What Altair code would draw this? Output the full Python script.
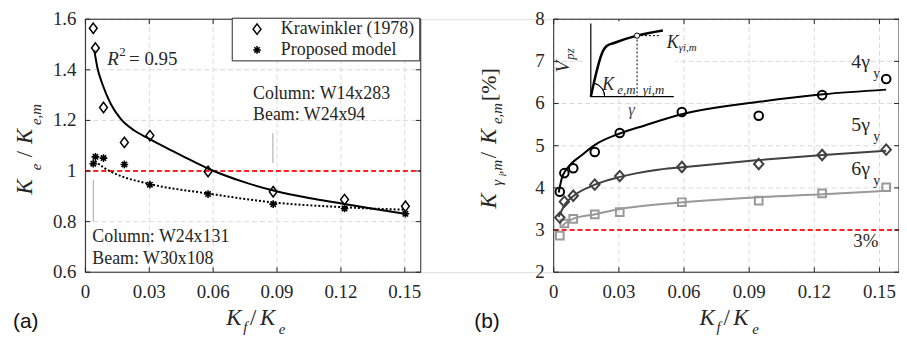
import altair as alt
import pandas as pd

SERIF = "Liberation Serif"
SANS = "Liberation Sans"
DARK = "#262626"
GRID = "#dadada"

# ---------------- Panel (a) data ----------------
ratio_a = [0.0037, 0.0047, 0.0085, 0.0183, 0.0303, 0.0576, 0.0882, 0.1217, 0.1503]
krawinkler = [1.564, 1.486, 1.251, 1.113, 1.140, 0.998, 0.918, 0.887, 0.861]
proposed = [1.029, 1.056, 1.051, 1.026, 0.946, 0.909, 0.869, 0.852, 0.831]
fit_solid_x = [0.0042, 0.0057, 0.0081, 0.0120, 0.0166, 0.0228, 0.0298, 0.0383, 0.0461,
               0.0570, 0.075, 0.0888, 0.105, 0.1214, 0.135, 0.150]
fit_solid_y = [1.477, 1.406, 1.341, 1.264, 1.206, 1.161, 1.128, 1.090, 1.057,
               1.012, 0.955, 0.922, 0.893, 0.870, 0.851, 0.831]
fit_dot_x = [0.0045, 0.0089, 0.015, 0.0306, 0.0576, 0.088, 0.121, 0.150]
fit_dot_y = [1.040, 1.012, 0.986, 0.948, 0.911, 0.876, 0.857, 0.847]
xticks_a = [0, 0.03, 0.06, 0.09, 0.12, 0.15]
yticks_a = [0.6, 0.8, 1.0, 1.2, 1.4, 1.6]

# ---------------- Panel (b) data ----------------
ratio_b = [0.0028, 0.0049, 0.0090, 0.0189, 0.0304, 0.0590, 0.0944, 0.1236, 0.1531]
gamma4 = [3.907, 4.35, 4.465, 4.85, 5.30, 5.80, 5.71, 6.20, 6.58]
gamma5 = [3.295, 3.674, 3.814, 4.077, 4.28, 4.496, 4.566, 4.78, 4.907]
gamma6 = [2.868, 3.155, 3.263, 3.372, 3.426, 3.66, 3.698, 3.868, 4.015]
fit4_x = [0.0023, 0.0038, 0.0053, 0.0084, 0.013, 0.019, 0.0305, 0.0419, 0.0594, 0.0944, 0.1241, 0.1531]
fit4_y = [3.89, 4.24, 4.40, 4.59, 4.78, 5.02, 5.29, 5.48, 5.75, 6.04, 6.22, 6.33]
fit5_x = [0.0023, 0.0053, 0.0091, 0.0187, 0.0305, 0.0464, 0.0594, 0.0944, 0.1241, 0.1531]
fit5_y = [3.31, 3.62, 3.81, 4.07, 4.26, 4.42, 4.49, 4.66, 4.78, 4.88]
fit6_x = [0.0038, 0.0053, 0.0091, 0.0187, 0.0305, 0.0464, 0.0594, 0.0944, 0.1241, 0.1531]
fit6_y = [3.08, 3.16, 3.27, 3.37, 3.50, 3.60, 3.66, 3.78, 3.85, 3.93]
xticks_b = [0, 0.03, 0.06, 0.09, 0.12, 0.15]
yticks_b = [2, 3, 4, 5, 6, 7, 8]

# inset schematic (in panel-b data units)
inset_axes_x = [0.01708, 0.01708, 0.0553]
inset_axes_y = [7.90, 6.163, 6.163]
inset_curve_x = [0.01708, 0.02284, 0.0244, 0.02741, 0.03838, 0.05026]
inset_curve_y = [6.163, 7.263, 7.365, 7.43, 7.61, 7.73]
inset_vdot_x = [0.03838, 0.03838]
inset_vdot_y = [7.61, 6.163]
inset_hdot_x = [0.03838, 0.04875]
inset_hdot_y = [7.61, 7.61]

# ---------------- layout (one view) ----------------
OX, OY = 86, 18
H = 255
A0, A1 = 0, 338          # panel (a) plot area, px within the view
B0, B1 = 472, 820        # panel (b) plot area
W = B1

DIAMOND_A = "M0,-1L0.75,0L0,1L-0.75,0Z"
DIAMOND_B = "M0,-1L0.9,0L0,1L-0.9,0Z"
ASTER = "M0,-1L0,1M-1,0L1,0M-0.7,-0.7L0.7,0.7M-0.7,0.7L0.7,-0.7"

ONE = alt.Data(values=[{"k": 0}])


def df_xy(xs, ys):
    return pd.DataFrame({"x": xs, "y": ys, "o": list(range(len(xs)))})


def XA():
    return alt.X("x:Q", scale=alt.Scale(domain=[0, 0.1575], range=[A0, A1], nice=False, zero=False), axis=None)


def YA():
    return alt.Y("y:Q", scale=alt.Scale(domain=[0.6, 1.6], nice=False, zero=False), axis=None)


def XB():
    return alt.X("x:Q", scale=alt.Scale(domain=[0, 0.159], range=[B0, B1], nice=False, zero=False), axis=None)


def YB():
    return alt.Y("y:Q", scale=alt.Scale(domain=[2, 8], nice=False, zero=False), axis=None)


def txt(text, x, y, size=19, style="normal", angle=0, align="left",
        baseline="alphabetic", font=SERIF, color=DARK):
    return alt.Chart(ONE).mark_text(
        text=text, font=font, fontSize=size, fontStyle=style, angle=angle,
        align=align, baseline=baseline, color=color
    ).encode(x=alt.value(x - OX), y=alt.value(y - OY))


def rule_px(x1, y1, x2, y2, color, width=1.0):
    return alt.Chart(ONE).mark_rule(color=color, strokeWidth=width).encode(
        x=alt.value(x1 - OX), y=alt.value(y1 - OY), x2=alt.value(x2 - OX), y2=alt.value(y2 - OY))


def frame_layers(xticks, yticks, X, Y, x0, x1, xfmt, yfmt):
    tx = pd.DataFrame({"x": xticks})
    ty = pd.DataFrame({"y": yticks})
    L = 5
    grid = [
        alt.Chart(tx).mark_rule(color=GRID, strokeWidth=1, strokeDash=[5, 3]).encode(
            x=X(), y=alt.value(0), y2=alt.value(H)),
        alt.Chart(ty).mark_rule(color=GRID, strokeWidth=1, strokeDash=[5, 3]).encode(
            y=Y(), x=alt.value(x0), x2=alt.value(x1)),
    ]
    frame = [
        alt.Chart(tx).mark_rule(color=DARK, strokeWidth=1).encode(
            x=X(), y=alt.value(H), y2=alt.value(H - L)),
        alt.Chart(tx).mark_rule(color=DARK, strokeWidth=1).encode(
            x=X(), y=alt.value(0), y2=alt.value(L)),
        alt.Chart(ty).mark_rule(color=DARK, strokeWidth=1).encode(
            y=Y(), x=alt.value(x0), x2=alt.value(x0 + L)),
        alt.Chart(ty).mark_rule(color=DARK, strokeWidth=1).encode(
            y=Y(), x=alt.value(x1 - L), x2=alt.value(x1)),
        alt.Chart(ONE).mark_rect(fillOpacity=0, stroke=DARK, strokeWidth=1).encode(
            x=alt.value(x0), x2=alt.value(x1), y=alt.value(0), y2=alt.value(H)),
        alt.Chart(tx).mark_text(font=SERIF, fontSize=19, color=DARK, align="center", baseline="top").encode(
            x=X(), y=alt.value(H + 11), text=alt.Text("x:Q", format=xfmt)),
        alt.Chart(ty).mark_text(font=SERIF, fontSize=19, color=DARK, align="right", baseline="middle").encode(
            y=Y(), x=alt.value(x0 - 9), text=alt.Text("y:Q", format=yfmt)),
    ]
    return grid, frame


# ================= Panel (a) =================
gridA, frameA = frame_layers(xticks_a, yticks_a, XA, YA, A0, A1, ".2~f", ".1~f")

a_red = alt.Chart(pd.DataFrame({"y": [1.0]})).mark_rule(color="#ff2020", strokeWidth=2, strokeDash=[5, 3]).encode(
    y=YA(), x=alt.value(A0), x2=alt.value(A1))
a_solid = alt.Chart(df_xy(fit_solid_x, fit_solid_y)).mark_line(color="black", strokeWidth=2, interpolate="monotone").encode(
    x=XA(), y=YA(), order="o:Q")
a_dot = alt.Chart(df_xy(fit_dot_x, fit_dot_y)).mark_line(color="black", strokeWidth=2, strokeDash=[2, 2], interpolate="monotone").encode(
    x=XA(), y=YA(), order="o:Q")
a_kraw = alt.Chart(df_xy(ratio_a, krawinkler)).mark_point(shape=DIAMOND_A, size=110, filled=False, color="black", strokeWidth=1.5, opacity=1).encode(
    x=XA(), y=YA())
a_prop = alt.Chart(df_xy(ratio_a, proposed)).mark_point(shape=ASTER, size=60, filled=False, color="black", strokeWidth=1.6, opacity=1).encode(
    x=XA(), y=YA())

a_gray1 = rule_px(275, 133, 275, 163, "#a6a6a6")
a_gray2 = rule_px(94, 180, 94, 222, "#a6a6a6")
a_legbox = alt.Chart(ONE).mark_rect(fill="white", stroke=DARK, strokeWidth=1).encode(
    x=alt.value(234 - OX), x2=alt.value(423 - OX), y=alt.value(OY - 1 - OY), y2=alt.value(60 - OY))
a_legsym1 = alt.Chart(ONE).mark_point(shape=DIAMOND_A, size=110, filled=False, color="black", strokeWidth=1.5, opacity=1).encode(
    x=alt.value(259 - OX), y=alt.value(28 - OY))
a_legsym2 = alt.Chart(ONE).mark_point(shape=ASTER, size=60, filled=False, color="black", strokeWidth=1.6, opacity=1).encode(
    x=alt.value(259 - OX), y=alt.value(49 - OY))

a_texts = [
    txt("Krawinkler (1978)", 283, 33, size=18),
    txt("Proposed model", 283, 54, size=18),
    txt("R", 108, 64, size=19, style="italic"),
    txt("2", 120, 55, size=13),
    txt("= 0.95", 130, 64, size=19),
    txt("Column: W14x283", 255, 98, size=18),
    txt("Beam: W24x94", 255, 120, size=18),
    txt("Column: W24x131", 93, 243, size=18),
    txt("Beam: W30x108", 93, 265, size=18),
    # x title
    txt("K", 228, 326, size=23, style="italic"),
    txt("f", 245, 333, size=15, style="italic"),
    txt("/", 252, 326, size=23),
    txt("K", 262, 326, size=23, style="italic"),
    txt("e", 281, 335, size=15, style="italic"),
    # y title (rotated)
    txt("K", 32, 187, size=23, style="italic", angle=270, align="center"),
    txt("e", 41, 167, size=15, style="italic", angle=270, align="center"),
    txt("/", 32, 154, size=23, angle=270, align="center"),
    txt("K", 32, 136, size=23, style="italic", angle=270, align="center"),
    txt("e,m", 41, 114, size=15, style="italic", angle=270, align="center"),
    txt("(a)", 13, 329, size=21, font=SANS, color="#111111"),
]

# ================= Panel (b) =================
gridB, frameB = frame_layers(xticks_b, yticks_b, XB, YB, B0, B1, ".2~f", "d")

b_red = alt.Chart(pd.DataFrame({"y": [3.0]})).mark_rule(color="#ff2020", strokeWidth=2, strokeDash=[5, 3]).encode(
    y=YB(), x=alt.value(B0), x2=alt.value(B1))

C4, C5, C6 = "#000000", "#404040", "#999999"


def fitline(xs, ys, c):
    return alt.Chart(df_xy(xs, ys)).mark_line(color=c, strokeWidth=2, interpolate="monotone").encode(
        x=XB(), y=YB(), order="o:Q")


def pts(xs, ys, shape, size, c):
    return alt.Chart(df_xy(xs, ys)).mark_point(shape=shape, size=size, filled=False, color=c, strokeWidth=2, opacity=1).encode(
        x=XB(), y=YB())


b_white = alt.Chart(ONE).mark_rect(fill="white").encode(
    x=alt.value(590 - OX), x2=alt.value(681 - OX), y=alt.value(20 - OY), y2=alt.value(98 - OY))
b_inaxes = alt.Chart(df_xy(inset_axes_x, inset_axes_y)).mark_line(color="black", strokeWidth=1.2).encode(
    x=XB(), y=YB(), order="o:Q")
b_incurve = alt.Chart(df_xy(inset_curve_x, inset_curve_y)).mark_line(color="black", strokeWidth=2.5, interpolate="monotone").encode(
    x=XB(), y=YB(), order="o:Q")
b_invdot = alt.Chart(df_xy(inset_vdot_x, inset_vdot_y)).mark_line(color="black", strokeWidth=1, strokeDash=[2, 2]).encode(
    x=XB(), y=YB(), order="o:Q")
b_inhdot = alt.Chart(df_xy(inset_hdot_x, inset_hdot_y)).mark_line(color="black", strokeWidth=1, strokeDash=[2, 2]).encode(
    x=XB(), y=YB(), order="o:Q")
b_inpt = alt.Chart(df_xy([inset_curve_x[4]], [inset_curve_y[4]])).mark_point(shape="circle", size=28, filled=True, fill="white", stroke="black", strokeWidth=1, opacity=1).encode(
    x=XB(), y=YB())
b_inarc = alt.Chart(df_xy([inset_axes_x[1]], [inset_axes_y[1]])).mark_arc(radius=14, radius2=14, theta=0.26, theta2=1.5708, fillOpacity=0, stroke="black", strokeWidth=1).encode(
    x=XB(), y=YB())

b_texts = [
    txt("4", 858, 67, size=20),
    txt("γ", 868, 67, size=20),
    txt("y", 880, 77, size=14),
    txt("5", 858, 131, size=20),
    txt("γ", 868, 131, size=20),
    txt("y", 880, 141, size=14),
    txt("6", 858, 175, size=20),
    txt("γ", 868, 175, size=20),
    txt("y", 880, 185, size=14),
    txt("3%", 860, 248, size=19),
    # inset labels
    txt("V", 573, 66, size=19, style="italic", angle=270, align="center"),
    txt("pz", 578, 53, size=13, style="italic", angle=270, align="center"),
    txt("K", 607, 89, size=18, style="italic"),
    txt("e,m", 622, 93, size=13, style="italic"),
    txt("γi,m", 648, 93, size=13, style="italic"),
    txt("K", 672, 47, size=18, style="italic"),
    txt("γi,m", 684, 50, size=11, style="italic"),
    txt("γ", 633, 115, size=17, style="italic", color="#4d4d4d"),
    # x title
    txt("K", 705, 326, size=23, style="italic"),
    txt("f", 722, 333, size=15, style="italic"),
    txt("/", 729, 326, size=23),
    txt("K", 739, 326, size=23, style="italic"),
    txt("e", 758, 335, size=15, style="italic"),
    # y title rotated
    txt("K", 500, 201, size=23, style="italic", angle=270, align="center"),
    txt("γ", 506, 183, size=15, style="italic", angle=270, align="center"),
    txt("i", 510, 175, size=11, style="italic", angle=270, align="center"),
    txt(",m", 506, 167, size=15, style="italic", angle=270, align="center"),
    txt("/", 500, 155, size=23, angle=270, align="center"),
    txt("K", 500, 136, size=23, style="italic", angle=270, align="center"),
    txt("e,m", 506, 113, size=15, style="italic", angle=270, align="center"),
    txt("[%]", 500, 84, size=22, angle=270, align="center"),
    txt("(b)", 478, 329, size=21, font=SANS, color="#111111"),
]

layers = (
    gridA + gridB
    + [a_red, a_solid, a_dot, a_kraw, a_prop, a_gray1, a_gray2]
    + [b_red, fitline(fit6_x, fit6_y, C6), fitline(fit5_x, fit5_y, C5), fitline(fit4_x, fit4_y, C4),
       pts(ratio_b, gamma6, "square", 60, C6),
       pts(ratio_b, gamma5, DIAMOND_B, 110, C5),
       pts(ratio_b, gamma4, "circle", 75, C4)]
    + frameA + frameB
    + [a_legbox, a_legsym1, a_legsym2]
    + [b_white, b_inaxes, b_incurve, b_invdot, b_inhdot, b_inpt, b_inarc]
    + a_texts + b_texts
)

chart = alt.layer(*layers).resolve_scale(x="independent", y="independent").properties(
    width=W, height=H,
    autosize=alt.AutoSizeParams(type="none"),
    padding={"left": OX - 8, "top": OY - 8, "right": 0, "bottom": 64},
).configure_view(stroke=None).configure(background="white")

chart.save("out.html", embed_options={"renderer": "svg", "actions": False})
